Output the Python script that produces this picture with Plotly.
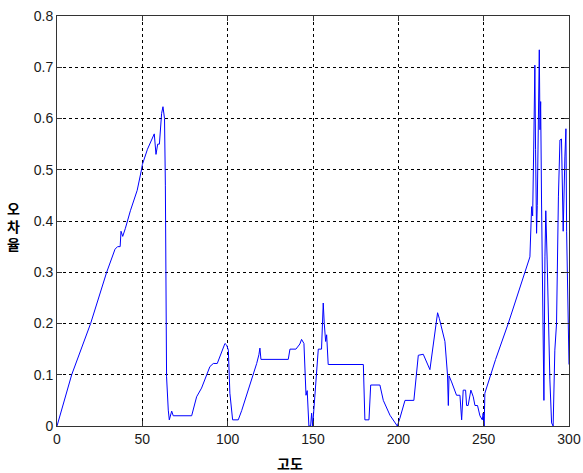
import plotly.graph_objects as go

altitude = [0, 8.6, 19.7, 29.1, 34, 35.5, 37, 37.5, 38.5, 40, 43, 47, 49.5, 50, 53, 56, 57, 58, 59, 60, 60.5,
            61.3, 62.1, 63, 63.5, 63.7, 64.2, 65.2, 65.8, 67.2, 68.1, 78.9, 81.8, 84.7, 86.7, 89.6, 91.6, 93.9,
            98.4, 99.4, 100.4, 101.3, 102.9, 106.2, 108.2, 113.1, 117, 118.3, 118.9, 119.5, 135.5, 136.5, 140,
            142.3, 143.3, 144.7, 145.9, 146.6, 147.6, 148.6, 149.2, 149.8, 150.6, 152.1, 153.1, 155, 156, 156.6,
            157.4, 158, 158.9, 179.5, 180.4, 182.8, 183.8, 189.2, 191.2, 195.1, 199.4, 200.9, 203.9, 209.1,
            211.7, 214.6, 218.5, 223, 224, 227.3, 228.8, 229.3, 229.7, 231.2, 234.1, 236.1, 237.1, 238, 239.4,
            240, 240.9, 242.5, 243.9, 244.9, 246.4, 247.8, 249.2, 249.7, 250.3, 250.7, 257, 264.4, 271, 277.1,
            278.1, 278.7, 279.4, 280, 280.4, 281, 281.4, 282, 282.6, 283, 283.4, 283.9, 284.9, 285.3, 285.9,
            286.4, 287.2, 287.8, 288.8, 289.8, 290.7, 291.7, 292.7, 293.8, 294.7, 295.6, 296.6, 297.6, 298.2,
            298.6, 299.5, 300]

error_rate = [0, 0.1, 0.2, 0.3, 0.345, 0.35, 0.35, 0.38, 0.37, 0.385, 0.42, 0.46, 0.5, 0.51, 0.54,
              0.565, 0.57, 0.53, 0.55, 0.55, 0.58, 0.61, 0.623, 0.6, 0.47, 0.25, 0.096, 0.031, 0.012, 0.029, 0.02,
              0.02, 0.057, 0.074, 0.09, 0.116, 0.122, 0.122, 0.161, 0.158, 0.148, 0.064, 0.012, 0.012, 0.03, 0.08,
              0.122, 0.139, 0.152, 0.13, 0.13, 0.15, 0.15, 0.16, 0.169, 0.161, 0.06, 0.069, 0, 0, 0.025, 0, 0.04,
              0.1, 0.15, 0.15, 0.24, 0.2, 0.165, 0.178, 0.12, 0.12, 0.012, 0.012, 0.08, 0.08, 0.05, 0.021, 0,
              0.015, 0.05, 0.05, 0.138, 0.14, 0.11, 0.221, 0.21, 0.165, 0.1, 0.04, 0.098, 0.086, 0.06, 0.06, 0.012,
              0.07, 0.07, 0.04, 0.04, 0.07, 0.057, 0.04, 0.04, 0.02, 0.012, 0.025, 0, 0.064, 0.13, 0.2, 0.27, 0.33,
              0.428, 0.41, 0.558, 0.704, 0.54, 0.376, 0.43, 0.597, 0.734, 0.578, 0.633, 0.441, 0.2, 0.05, 0.33,
              0.42, 0.324, 0.233, 0.09, 0.006, 0, 0.148, 0.2, 0.447, 0.558, 0.56, 0.38, 0.525, 0.58, 0.38, 0.168,
              0.12]

x_ticks = [0, 50, 100, 150, 200, 250, 300]
y_ticks = [0, 0.1, 0.2, 0.3, 0.4, 0.5, 0.6, 0.7, 0.8]

fig = go.Figure()
fig.add_trace(go.Scatter(x=altitude, y=error_rate, mode="lines",
                         line=dict(color="#0000FF", width=1), showlegend=False))

axis_common = dict(showline=True, linecolor="#333333", linewidth=1, mirror="ticks",
                   ticks="inside", ticklen=5, tickcolor="#333333", automargin=False,
                   showgrid=True, gridcolor="#000000", gridwidth=1, griddash="3px,3px",
                   zeroline=False, tickfont=dict(family="Liberation Sans, Arial", size=14, color="#1a1a1a"))

fig.update_xaxes(range=[0, 300], tickvals=x_ticks, ticktext=[str(v) for v in x_ticks], **axis_common)
fig.update_yaxes(range=[0, 0.8], tickvals=y_ticks, ticktext=[f"{v:g}" for v in y_ticks], **axis_common)

fig.add_annotation(text="<b>고도</b>", xref="paper", yref="paper", x=0.455, y=-0.09,
                   xanchor="center", yanchor="middle", showarrow=False,
                   font=dict(family="Noto Sans CJK KR", size=14, color="#000000"))
fig.add_annotation(text="<b>오<br>차<br>율</b>", xref="paper", yref="paper", x=-0.085, y=0.488,
                   xanchor="center", yanchor="middle", showarrow=False, align="center",
                   font=dict(family="Noto Sans CJK KR", size=14, color="#000000"))

fig.update_layout(width=583, height=473, margin=dict(l=57, r=14, t=16, b=47),
                  plot_bgcolor="white", paper_bgcolor="white")

fig.write_html("out.html", config={"displayModeBar": False},
               post_script="document.body.style.margin='0';document.body.style.overflow='hidden';")
